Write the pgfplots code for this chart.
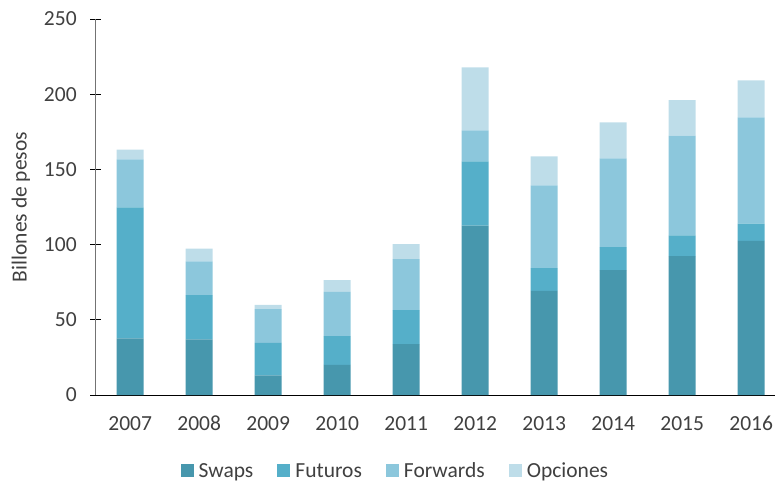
\documentclass[border=0pt]{standalone}
\usepackage{pgfplots}
\pgfplotsset{compat=1.18}
\usepackage{pgfplotstable}
\usepackage{fontspec}
\setmainfont{Carlito}
\definecolor{cSwaps}{RGB}{71,151,173}
\definecolor{cFut}{RGB}{85,175,201}
\definecolor{cFwd}{RGB}{140,199,220}
\definecolor{cOpc}{RGB}{190,221,233}
\definecolor{txt}{RGB}{64,64,64}
\pgfplotstableread{
x Swaps Futuros Forwards Opciones
0 37.6 87.2 31.9 6.4
1 37.0 29.4 22.4 8.6
2 13.1 21.6 22.4 2.9
3 20.1 19.1 29.4 7.8
4 33.9 22.5 33.9 10.0
5 112.7 42.7 20.6 41.8
6 69.3 15.0 55.1 19.3
7 83.0 15.3 59.1 23.9
8 92.3 13.9 66.2 23.7
9 102.5 11.5 70.6 24.6
}\datatable
\begin{document}
\begin{tikzpicture}
\begin{axis}[
  scale only axis,
  width=679.65pt, height=376pt,
  xmin=-0.5, xmax=9.35,
  ymin=0, ymax=250,
  ybar stacked,
  bar width=27pt,
  axis x line=bottom, axis y line=left,
  x axis line style={-, black},
  y axis line style={-, black!55},
  xtick={0,...,9},
  xticklabels={2007,2008,2009,2010,2011,2012,2013,2014,2015,2016},
  minor xtick={0.5,1.5,...,8.5},
  ytick={0,50,...,250},
  tick align=center,
  major tick length=11pt,
  minor tick length=11pt,
  xtick style={draw=none},
  minor x tick style={black, line width=0.8pt},
  ytick style={black, line width=0.8pt},
  font=\fontsize{21.5}{25}\selectfont,
  /pgf/number format/assume math mode=true,
  ticklabel style={text=txt, font=\fontsize{21.5}{25}\selectfont},
  xticklabel style={anchor=base, yshift=-30pt},
  yticklabel style={xshift=-10pt},
  ylabel={Billones de pesos},
  ylabel shift=7pt,
  ylabel style={text=txt, font=\fontsize{21.5}{25}\selectfont},
  legend columns=4,
  legend style={at={(rel axis cs:0.441,-0.202)}, anchor=center, draw=none,
    font=\fontsize{21.5}{25}\selectfont, text=txt,
    /tikz/every odd column/.append style={column sep=3pt},
    /tikz/every even column/.append style={column sep=22pt}},
  legend image code/.code={\fill[#1] (0pt,-6pt) rectangle (13pt,7pt);},
  clip=false,
]
\addplot[fill=cSwaps, draw=none] table[x=x, y=Swaps] {\datatable};
\addplot[fill=cFut, draw=none] table[x=x, y=Futuros] {\datatable};
\addplot[fill=cFwd, draw=none] table[x=x, y=Forwards] {\datatable};
\addplot[fill=cOpc, draw=none] table[x=x, y=Opciones] {\datatable};
\legend{Swaps, Futuros, Forwards, Opciones}
\coordinate (o) at (rel axis cs:0,0);
\end{axis}
\pgfresetboundingbox
\path ([xshift=-95.7pt,yshift=-90pt]o) rectangle ([xshift=682.3pt,yshift=395pt]o);
\end{tikzpicture}
\end{document}
